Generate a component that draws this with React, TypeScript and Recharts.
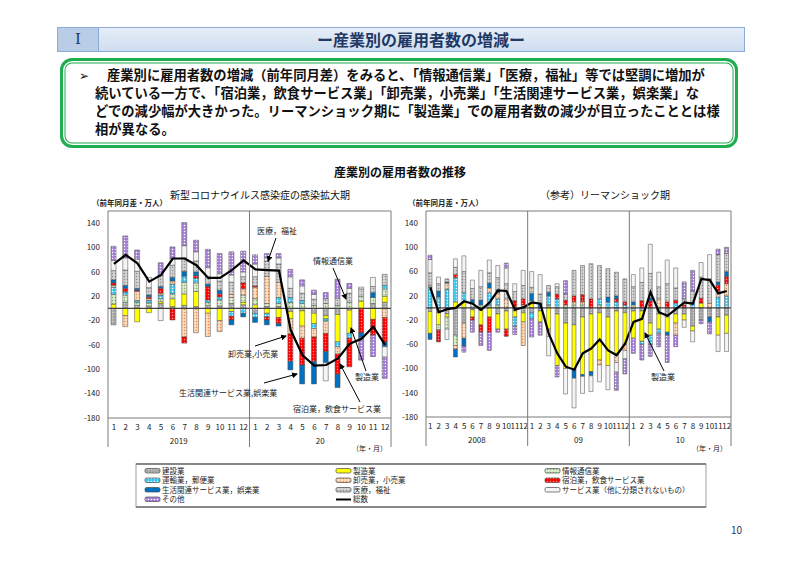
import React from 'react';
import { ComposedChart, Bar, Line, XAxis, YAxis, ReferenceLine } from 'recharts';

const FONT = '"Noto Sans CJK JP", "Noto Sans", sans-serif';

// ---------- Left chart: COVID period (2019/1 - 2020/12) ----------
const covidCategories = [
  '19-1', '19-2', '19-3', '19-4', '19-5', '19-6', '19-7', '19-8', '19-9', '19-10', '19-11', '19-12',
  '20-1', '20-2', '20-3', '20-4', '20-5', '20-6', '20-7', '20-8', '20-9', '20-10', '20-11', '20-12',
];
const covidMonths = [1, 2, 3, 4, 5, 6, 7, 8, 9, 10, 11, 12, 1, 2, 3, 4, 5, 6, 7, 8, 9, 10, 11, 12];
const covidYears = ['2019', '20'];

const covidKen = [-27, 10, 5, 4, 8, 3, 5, 3, 5, 4, 8, 6, -8, 3, 3, -5, -4, -8, -12, -10, -3, 0, 8, 10];
const covidSei = [7, -12, -22, -7, 3, 13, 19, 25, -8, -20, -5, 4, 6, -8, -15, -12, -25, -17, -5, -45, -38, 12, -18, 10];
const covidJoho = [16, 12, 5, 5, 5, 8, 19, 14, 5, 10, 10, 12, 10, 5, 5, 10, 8, 5, 8, 5, 10, 8, 10, 12];
const covidUnyu = [12, 5, 3, 4, 6, 16, 10, 8, 4, 5, -8, -8, -7, -6, 10, 8, 5, -8, -4, -8, -8, 0, 0, 6];
const covidOroshi = [3, -18, 15, 3, 3, 5, -47, -40, -38, -18, 5, 10, 19, 45, 25, -25, -20, -14, -20, -12, 0, 0, 0, -15];
const covidShuku = [4, 6, 2, 3, 8, -19, -10, 4, 22, 5, -6, 10, 2, -5, -10, -45, -44, -40, -30, -33, -47, -40, -26, -40];
const covidSeikatsu = [5, 5, 3, 3, 3, 6, 8, 6, 4, 6, -8, -6, -8, -8, -4, -14, -31, -37, -18, -22, 0, -8, 8, -8];
const covidIryo = [15, 25, 28, 12, 18, 20, 22, 18, 12, 15, 20, 10, 15, 25, 30, 15, 12, 10, 8, 12, 15, 12, 10, 18];
const covidService = [17, 20, 20, 17, -20, 11, 20, 15, 15, 12, 12, 8, 21, 5, 10, 19, 12, 8, -30, 0, 8, 3, 15, -17];
const covidOther = [23, 36, 15, 0, 21, 19, 38, 19, 30, 33, 38, 34, 15, 7, 7, 12, 10, 7, 10, 31, 8, -37, -35, -35];
const covidTotal = [73, 88, 74, 44, 55, 82, 82, 71, 50, 50, 63, 79, 64, 63, 62, -36, -77, -94, -93, -82, -58, -50, -30, -60];

// ---------- Right chart: Lehman shock period (2008/1 - 2010/12) ----------
const lehmanCategories = [
  '08-1', '08-2', '08-3', '08-4', '08-5', '08-6', '08-7', '08-8', '08-9', '08-10', '08-11', '08-12',
  '09-1', '09-2', '09-3', '09-4', '09-5', '09-6', '09-7', '09-8', '09-9', '09-10', '09-11', '09-12',
  '10-1', '10-2', '10-3', '10-4', '10-5', '10-6', '10-7', '10-8', '10-9', '10-10', '10-11', '10-12',
];
const lehmanMonths = [
  1, 2, 3, 4, 5, 6, 7, 8, 9, 10, 11, 12, 1, 2, 3, 4, 5, 6, 7, 8, 9, 10, 11, 12, 1, 2, 3, 4, 5, 6, 7, 8, 9, 10, 11, 12,
];
const lehmanYears = ['2008', '09', '10'];

const lehmanKen = [-6, -8, -10, -45, -25, -3, -4, 5, -10, -5, -5, -8, -8, -5, 5, -10, -25, -28, -15, -10, -8, -15, -5, -8, -5, -5, -25, -10, -15, -10, -10, -30, -20, -15, -15, -12];
const lehmanSei = [-36, -20, -5, 10, 10, -12, -24, -15, -25, -30, -10, -15, 7, -18, -35, -85, -75, -72, -95, -95, -78, -80, -70, -52, -45, -50, -20, -25, -25, -15, -10, -8, 8, 0, -30, -30];
const lehmanJoho = [0, -8, -20, -17, 0, 8, 5, 0, 5, 0, 0, 5, 5, 0, 0, 0, 5, 5, 5, 0, 5, 0, 0, 0, 5, 0, 0, 0, 0, 0, 0, 0, 0, 0, 0, 0];
const lehmanUnyu = [35, 18, 31, 40, 15, 0, 0, 20, 10, 0, -15, 0, -10, 0, 15, 15, 0, 0, 0, 0, 10, 10, 10, 5, 0, -5, -15, -7, 0, 8, 0, 8, 0, 0, 18, 20];
const lehmanOroshi = [3, 0, 10, -6, -25, 0, 0, 8, 10, 15, 0, -39, 0, 0, -12, 0, 0, 5, 5, 0, -8, 0, -15, -10, 0, 0, 0, 15, 0, -20, 0, 0, 0, 8, 10, 20];
const lehmanShuku = [0, -20, 0, 5, 0, -5, -12, -25, 0, -12, 12, 10, 0, 0, 0, 8, 8, 10, 12, 15, 0, 0, 5, 5, 0, 12, 12, 0, 10, 5, 5, 0, 8, 0, 10, 12];
const lehmanSeikatsu = [-10, 10, 2, -13, -13, 6, 8, 8, 5, 0, 0, 0, 12, 8, 6, 0, 0, -16, -3, -7, 0, 8, 5, 0, 5, 0, 5, 0, -5, 0, 0, 0, 0, -8, 5, 8];
const lehmanIryo = [20, 12, 5, 12, 35, 18, 22, 17, 20, 25, 15, 22, 10, 15, 11, 12, 10, 42, 48, 58, 55, 47, 39, 38, 25, 30, 40, 20, 30, 20, 10, 20, 35, 40, 45, 30];
const lehmanService = [22, 11, -17, 14, 26, 14, 27, 21, 20, 26, 13, 25, 26, 32, -32, 5, -42, -49, -28, -26, -28, -40, -16, -14, 20, 24, 48, 24, 39, 33, -12, -18, 24, 40, -27, -30];
const lehmanOther = [7, 0, 0, 0, -10, -20, -22, -30, -5, 8, -14, 0, -30, -22, 0, -19, 22, 0, 0, 0, 0, 0, -30, -25, -25, -26, -20, -22, -45, -19, 28, 34, -6, -20, 9, 10];
const lehmanTotal = [34, -7, -2, 0, 11, 7, -3, 9, 29, 28, -3, 1, 9, 7, -43, -75, -97, -102, -75, -67, -52, -70, -78, -59, -23, -18, 26, -7, -13, -2, 9, 7, 48, 46, 24, 28];

const yTicks = [-180, -140, -100, -60, -20, 20, 60, 100, 140];

// series in stacking order (nearest zero first)
const SERIES = [
  { key: 'ken', name: '建設業' },
  { key: 'sei', name: '製造業' },
  { key: 'joho', name: '情報通信業' },
  { key: 'unyu', name: '運輸業，郵便業' },
  { key: 'oroshi', name: '卸売業，小売業' },
  { key: 'shuku', name: '宿泊業，飲食サービス業' },
  { key: 'seikatsu', name: '生活関連サービス業，娯楽業' },
  { key: 'iryo', name: '医療，福祉' },
  { key: 'service', name: 'サービス業（他に分類されないもの）' },
  { key: 'other', name: 'その他' },
];

const PAT: Record<string, { bg: string; dot?: string }> = {
  ken: { bg: '#a6a6a6', dot: '#d6d6d6' },
  sei: { bg: '#ffff00' },
  joho: { bg: '#dcebcf', dot: '#7caf62' },
  unyu: { bg: '#3cc6f0', dot: '#ffffff' },
  oroshi: { bg: '#fbdcc0', dot: '#ef8a3a' },
  shuku: { bg: '#ff0000', dot: '#ff8c8c' },
  seikatsu: { bg: '#0070c0' },
  iryo: { bg: '#d4d4d4', dot: '#8c8c8c' },
  service: { bg: '#f4f4f4' },
  other: { bg: '#a57ed8', dot: '#ffffff' },
};

function renderPatterns(prefix: string) {
  return (
    <defs>
      {SERIES.map((s) => {
        const p = PAT[s.key];
        return (
          <pattern key={s.key} id={`${prefix}-${s.key}`} width={3} height={3} patternUnits="userSpaceOnUse">
            <rect width={3} height={3} fill={p.bg} />
            {p.dot ? <circle cx={1.5} cy={1.5} r={0.75} fill={p.dot} /> : null}
          </pattern>
        );
      })}
    </defs>
  );
}

function buildTable(
  cats: string[],
  cols: Record<string, number[]>,
  total: number[],
) {
  return cats.map((c, i) => {
    const row: Record<string, number | string> = { cat: c, total: total[i] };
    Object.keys(cols).forEach((k) => {
      row[k] = cols[k][i];
    });
    return row;
  });
}

const covidData = buildTable(
  covidCategories,
  {
    ken: covidKen, sei: covidSei, joho: covidJoho, unyu: covidUnyu, oroshi: covidOroshi,
    shuku: covidShuku, seikatsu: covidSeikatsu, iryo: covidIryo, service: covidService, other: covidOther,
  },
  covidTotal,
);
const lehmanData = buildTable(
  lehmanCategories,
  {
    ken: lehmanKen, sei: lehmanSei, joho: lehmanJoho, unyu: lehmanUnyu, oroshi: lehmanOroshi,
    shuku: lehmanShuku, seikatsu: lehmanSeikatsu, iryo: lehmanIryo, service: lehmanService, other: lehmanOther,
  },
  lehmanTotal,
);

const makeTick = (months: number[], years: string[], plotH: number, half: number, fs: number) =>
  (props: any) => {
    const { x, y, index } = props;
    const i: number = index;
    return (
      <g>
        <text x={x} y={y + 12} textAnchor="middle" fontSize={fs} fill="#222" fontFamily={FONT}>
          {months[i]}
        </text>
        {i % 12 === 0 ? (
          <line x1={x - half} x2={x - half} y1={y - plotH} y2={y + 29} stroke="#7a7a7a" strokeWidth={1} />
        ) : null}
        {i === months.length - 1 ? (
          <line x1={x + half} x2={x + half} y1={y - plotH} y2={y + 29} stroke="#7a7a7a" strokeWidth={1} />
        ) : null}
        {i % 12 === 5 ? (
          <text x={x + half} y={y + 26} textAnchor="middle" fontSize={fs} fill="#222" fontFamily={FONT}>
            {years[Math.floor(i / 12)]}
          </text>
        ) : null}
      </g>
    );
  };

type ChartProps = {
  data: Record<string, number | string>[];
  months: number[];
  years: string[];
  width: number;
  yW: number;
  mBottom: number;
  barSize: number;
  prefix: string;
  monthFont: number;
};

function StackChart({ data, months, years, width, yW, mBottom, barSize, prefix, monthFont }: ChartProps) {
  const height = 260;
  const mTop = 11;
  const mRight = 9;
  const xH = 30;
  const plotH = height - mTop - mBottom - xH;
  const plotW = width - yW - mRight;
  const half = plotW / data.length / 2;
  return (
    <ComposedChart
      width={width}
      height={height}
      data={data}
      stackOffset="sign"
      margin={{ top: mTop, right: mRight, bottom: mBottom, left: 0 }}
    >
      {renderPatterns(prefix)}
      <XAxis
        dataKey="cat"
        interval={0}
        tickLine={false}
        tickSize={0}
        tickMargin={0}
        height={xH}
        axisLine={{ stroke: '#7a7a7a' }}
        tick={makeTick(months, years, plotH, half, monthFont)}
      />
      <YAxis
        type="number"
        domain={[-180, 160]}
        ticks={yTicks}
        interval={0}
        width={yW}
        tickLine={false}
        axisLine={false}
        tick={{ fontSize: 8, fill: '#222', fontFamily: FONT }}
      />
      {SERIES.map((s) => (
        <Bar
          key={s.key}
          dataKey={s.key}
          name={s.name}
          stackId="s"
          barSize={barSize}
          fill={`url(#${prefix}-${s.key})`}
          stroke="#4a4a4a"
          strokeWidth={0.5}
          isAnimationActive={false}
        />
      ))}
      <ReferenceLine y={160} stroke="#7a7a7a" strokeWidth={1} />
      <ReferenceLine y={0} stroke="#404040" strokeWidth={1.2} />
      <Line
        dataKey="total"
        name="総数"
        type="linear"
        stroke="#000"
        strokeWidth={2.2}
        dot={false}
        activeDot={false}
        isAnimationActive={false}
      />
    </ComposedChart>
  );
}

const abs = (left: number, top: number, extra: React.CSSProperties = {}): React.CSSProperties => ({
  position: 'absolute',
  left,
  top,
  ...extra,
});

const bodyLines = [
  '続いている一方で、「宿泊業，飲食サービス業」「卸売業，小売業」「生活関連サービス業，娯楽業」な',
  'どでの減少幅が大きかった。リーマンショック期に「製造業」での雇用者数の減少が目立ったこととは様',
  '相が異なる。',
];

function Legend() {
  const cols = [145, 336, 545];
  const rows = [471, 480.5, 490, 499.5];
  const items: { key: string; name: string; c: number; r: number }[] = [
    { key: 'ken', name: '建設業', c: 0, r: 0 },
    { key: 'sei', name: '製造業', c: 1, r: 0 },
    { key: 'joho', name: '情報通信業', c: 2, r: 0 },
    { key: 'unyu', name: '運輸業，郵便業', c: 0, r: 1 },
    { key: 'oroshi', name: '卸売業，小売業', c: 1, r: 1 },
    { key: 'shuku', name: '宿泊業，飲食サービス業', c: 2, r: 1 },
    { key: 'seikatsu', name: '生活関連サービス業，娯楽業', c: 0, r: 2 },
    { key: 'iryo', name: '医療，福祉', c: 1, r: 2 },
    { key: 'service', name: 'サービス業（他に分類されないもの）', c: 2, r: 2 },
    { key: 'other', name: 'その他', c: 0, r: 3 },
  ];
  return (
    <svg width={800} height={564} style={abs(0, 0, { pointerEvents: 'none' })}>
      {renderPatterns('G')}
      <rect x={136} y={464} width={570} height={43} fill="none" stroke="#a0a0a0" strokeWidth={1} />
      <line x1={136} x2={706} y1={464} y2={464} stroke="#707070" strokeWidth={1.5} />
      <line x1={136} x2={706} y1={507} y2={507} stroke="#707070" strokeWidth={1.5} />
      {items.map((it) => (
        <g key={it.key}>
          <rect
            x={cols[it.c]}
            y={rows[it.r] - 2.5}
            width={15}
            height={4.5}
            rx={1.5}
            fill={`url(#G-${it.key})`}
            stroke="#4a4a4a"
            strokeWidth={0.7}
          />
          <text x={cols[it.c] + 17} y={rows[it.r] + 2.6} fontSize={7.5} fill="#222" fontFamily={FONT}>
            {it.name}
          </text>
        </g>
      ))}
      <line x1={cols[1]} x2={cols[1] + 15} y1={rows[3]} y2={rows[3]} stroke="#000" strokeWidth={2} />
      <text x={cols[1] + 17} y={rows[3] + 2.6} fontSize={7.5} fill="#222" fontFamily={FONT}>
        総数
      </text>
    </svg>
  );
}

function Annotations() {
  const t = { fontSize: 8, fill: '#222', fontFamily: FONT } as const;
  const arrows: [number, number, number, number][] = [
    [276, 238, 268, 261],
    [333, 268, 346, 299],
    [255, 346, 286, 336],
    [264, 383, 297, 374],
    [360, 402, 340, 364],
    [366, 371, 351, 328],
    [664, 371, 645, 333],
  ];
  return (
    <svg width={800} height={564} style={abs(0, 0, { pointerEvents: 'none' })}>
      <defs>
        <marker id="arrowHead" markerWidth={6} markerHeight={6} refX={5} refY={3} orient="auto" markerUnits="userSpaceOnUse">
          <path d="M0,0 L6,3 L0,6 z" fill="#000" />
        </marker>
      </defs>
      {arrows.map((a, i) => (
        <line key={i} x1={a[0]} y1={a[1]} x2={a[2]} y2={a[3]} stroke="#000" strokeWidth={1} markerEnd="url(#arrowHead)" />
      ))}
      <text x={257} y={234} {...t}>医療，福祉</text>
      <text x={313} y={264} {...t}>情報通信業</text>
      <text x={228} y={357} {...t}>卸売業,小売業</text>
      <text x={179} y={396} {...t}>生活関連サービス業,娯楽業</text>
      <text x={293} y={412} {...t}>宿泊業，飲食サービス業</text>
      <text x={355} y={380} {...t}>製造業</text>
      <text x={651} y={380} {...t}>製造業</text>
    </svg>
  );
}

export default function App() {
  return (
    <div style={{ position: 'absolute', left: 0, top: 0, width: 800, height: 564, background: '#fff', fontFamily: FONT, overflow: 'hidden' }}>
      {/* header */}
      <div
        style={abs(57, 27, {
          width: 688,
          height: 25,
          boxSizing: 'border-box',
          border: '1px solid #8eaad6',
          background: 'linear-gradient(to bottom, #e6eef8, #cfddef)',
        })}
      >
        <div
          style={abs(0, 0, {
            width: 40,
            height: 23,
            background: '#b9cde6',
            borderRight: '1px solid #8eaad6',
            textAlign: 'center',
            lineHeight: '23px',
            fontFamily: '"DejaVu Serif", serif',
            fontSize: 15,
            color: '#1f3864',
          })}
        >
          Ⅰ
        </div>
        <div
          style={abs(40, 0, {
            width: 646,
            height: 23,
            textAlign: 'center',
            lineHeight: '23px',
            fontSize: 16,
            fontWeight: 'bold',
            color: '#1f3864',
          })}
        >
          ー産業別の雇用者数の増減ー
        </div>
      </div>

      {/* green box */}
      <div
        style={abs(60, 58, {
          width: 678,
          height: 90,
          boxSizing: 'border-box',
          border: '3px solid #1fad4f',
          borderRadius: 12,
          boxShadow: 'inset 0 0 0 1.5px #ffffff, inset 0 0 0 2.5px #1fad4f',
        })}
      />
      <div style={abs(79, 67, { fontSize: 12, lineHeight: '18px', fontFamily: '"DejaVu Sans", sans-serif', color: '#111' })}>➢</div>
      <div style={abs(107, 66, { fontSize: 13.3, lineHeight: '18px', fontWeight: 'bold', color: '#111', whiteSpace: 'nowrap' })}>
        産業別に雇用者数の増減（前年同月差）をみると、「情報通信業」「医療，福祉」等では堅調に増加が
      </div>
      {bodyLines.map((l, i) => (
        <div key={i} style={abs(95, 84 + i * 18, { fontSize: 13.3, lineHeight: '18px', fontWeight: 'bold', color: '#111', whiteSpace: 'nowrap' })}>
          {l}
        </div>
      ))}

      {/* chart title and subtitles */}
      <div style={abs(250, 164, { width: 300, textAlign: 'center', fontSize: 12, fontWeight: 'bold', color: '#111', lineHeight: '16px' })}>
        産業別の雇用者数の推移
      </div>
      <div style={abs(150, 188, { width: 220, textAlign: 'center', fontSize: 10, color: '#111', lineHeight: '14px' })}>
        新型コロナウイルス感染症の感染拡大期
      </div>
      <div style={abs(520, 188, { width: 170, textAlign: 'center', fontSize: 10, color: '#111', lineHeight: '14px' })}>
        （参考）リーマンショック期
      </div>
      <div style={abs(92, 198, { fontSize: 7.5, fontWeight: 'bold', color: '#222', lineHeight: '10px' })}>（前年同月差・万人）</div>
      <div style={abs(408, 198, { fontSize: 7.5, fontWeight: 'bold', color: '#222', lineHeight: '10px' })}>（前年同月差・万人）</div>

      {/* charts */}
      <div style={abs(60, 200)}>
        <StackChart
          data={covidData}
          months={covidMonths}
          years={covidYears}
          width={340}
          yW={48}
          mBottom={12}
          barSize={5}
          prefix="L"
          monthFont={8}
        />
      </div>
      <div style={abs(380, 200)}>
        <StackChart
          data={lehmanData}
          months={lehmanMonths}
          years={lehmanYears}
          width={360}
          yW={46}
          mBottom={13}
          barSize={4}
          prefix="R"
          monthFont={8}
        />
      </div>

      <div style={abs(352, 443, { fontSize: 7, color: '#222', lineHeight: '10px' })}>（年・月）</div>
      <div style={abs(692, 443, { fontSize: 7, color: '#222', lineHeight: '10px' })}>（年・月）</div>

      <Annotations />
      <Legend />

      <div style={abs(731, 524, { fontSize: 10, color: '#1f3864', lineHeight: '12px' })}>10</div>
    </div>
  );
}
